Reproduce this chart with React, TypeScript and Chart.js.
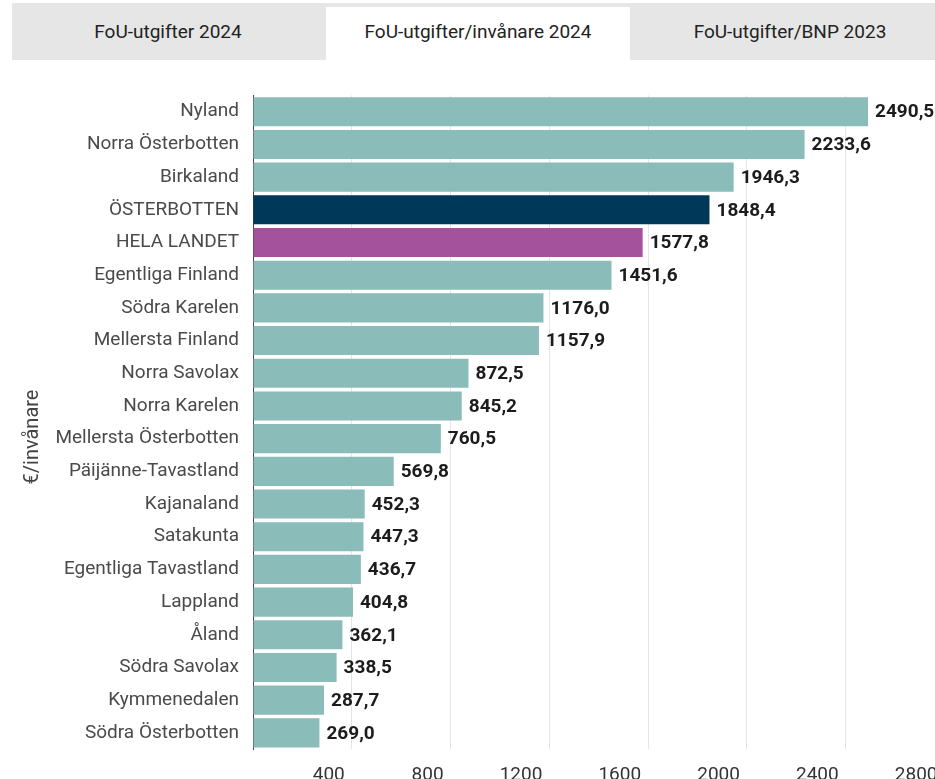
import React, { useEffect, useRef } from "react";
import { Chart, registerables } from "chart.js";

Chart.register(...registerables);

const categories = [
  "Nyland",
  "Norra Österbotten",
  "Birkaland",
  "ÖSTERBOTTEN",
  "HELA LANDET",
  "Egentliga Finland",
  "Södra Karelen",
  "Mellersta Finland",
  "Norra Savolax",
  "Norra Karelen",
  "Mellersta Österbotten",
  "Päijänne-Tavastland",
  "Kajanaland",
  "Satakunta",
  "Egentliga Tavastland",
  "Lappland",
  "Åland",
  "Södra Savolax",
  "Kymmenedalen",
  "Södra Österbotten",
];

const values = [
  2490.5, 2233.6, 1946.3, 1848.4, 1577.8, 1451.6, 1176.0, 1157.9, 872.5, 845.2,
  760.5, 569.8, 452.3, 447.3, 436.7, 404.8, 362.1, 338.5, 287.7, 269.0,
];

const tabs = ["FoU-utgifter 2024", "FoU-utgifter/invånare 2024", "FoU-utgifter/BNP 2023"];
const axisTitle = "€/invånare";

const TEAL = "#8abcba";
const NAVY = "#00385a";
const PURPLE = "#a4529b";

const barColors = categories.map((c) =>
  c === "ÖSTERBOTTEN" ? NAVY : c === "HELA LANDET" ? PURPLE : TEAL
);

const FONT = "Roboto, 'Noto Sans', sans-serif";

export default function App() {
  const ref = useRef<HTMLCanvasElement | null>(null);

  useEffect(() => {
    if (!ref.current) return;
    const valueLabels = {
      id: "valueLabels",
      afterDatasetsDraw(chart: any) {
        const ctx = chart.ctx;
        const meta = chart.getDatasetMeta(0);
        ctx.save();
        ctx.font = `bold 19px ${FONT}`;
        ctx.fillStyle = "#1c1c1c";
        ctx.textAlign = "left";
        ctx.textBaseline = "middle";
        meta.data.forEach((bar: any, i: number) => {
          const v = values[i];
          ctx.fillText(v.toFixed(1).replace(".", ","), bar.x + 7, bar.y + 1);
        });
        ctx.restore();
      },
    };
    const yTitle = {
      id: "yTitle",
      afterDraw(chart: any) {
        const ctx = chart.ctx;
        ctx.save();
        ctx.translate(33, 367);
        ctx.rotate(-Math.PI / 2);
        ctx.font = `20px ${FONT}`;
        ctx.fillStyle = "#444";
        ctx.textAlign = "center";
        ctx.textBaseline = "middle";
        ctx.fillText(axisTitle, 0, 0);
        ctx.restore();
      },
    };
    const chart = new Chart(ref.current, {
      type: "bar",
      data: {
        labels: categories,
        datasets: [
          {
            data: values,
            backgroundColor: barColors,
            borderWidth: 0,
            barPercentage: 0.89,
            categoryPercentage: 1,
          },
        ],
      },
      options: {
        indexAxis: "y",
        responsive: false,
        animation: false,
        devicePixelRatio: 1,
        layout: { padding: { top: 21, right: 4, bottom: 6, left: 0 } },
        plugins: {
          legend: { display: false },
          tooltip: { enabled: false },
        },
        scales: {
          x: {
            min: 0,
            max: 2800,
            border: { display: false },
            grid: { color: "#e4e4e4", drawTicks: false, lineWidth: 1 },
            ticks: {
              stepSize: 400,
              align: "end",
              labelOffset: -7,
              padding: 14.5,
              color: "#333",
              font: { family: FONT, size: 19 },
              callback: (v: any) => (v === 0 ? "" : String(v)),
            },
          },
          y: {
            border: { display: true, color: "#444", width: 1 },
            grid: { display: false, drawTicks: false },
            ticks: {
              padding: 14,
              color: "#4a4a4a",
              font: { family: FONT, size: 19 },
            },
            afterFit: (scale: any) => {
              scale.width = 253;
            },
          },
        },
      },
      plugins: [valueLabels, yTitle],
    });
    return () => chart.destroy();
  }, []);

  return (
    <div
      style={{
        position: "fixed",
        left: 0,
        top: 0,
        width: 935,
        height: 779,
        overflow: "hidden",
        background: "#fff",
        fontFamily: FONT,
      }}
    >
      <div
        style={{
          position: "absolute",
          left: 12,
          top: 3,
          width: 923,
          height: 57,
          background: "#e6e6e6",
        }}
      />
      <div
        style={{
          position: "absolute",
          left: 326,
          top: 7,
          width: 304,
          height: 53,
          background: "#fff",
        }}
      />
      {tabs.map((t, i) => (
        <div
          key={t}
          style={{
            position: "absolute",
            left: [168, 478, 790][i] - 160,
            width: 320,
            top: 20,
            height: 24,
            lineHeight: "24px",
            textAlign: "center",
            fontSize: 19,
            color: "#222",
          }}
        >
          {t}
        </div>
      ))}
      <canvas
        ref={ref}
        width={959}
        height={737}
        style={{ position: "absolute", left: 0, top: 70, width: 959, height: 737 }}
      />
    </div>
  );
}
